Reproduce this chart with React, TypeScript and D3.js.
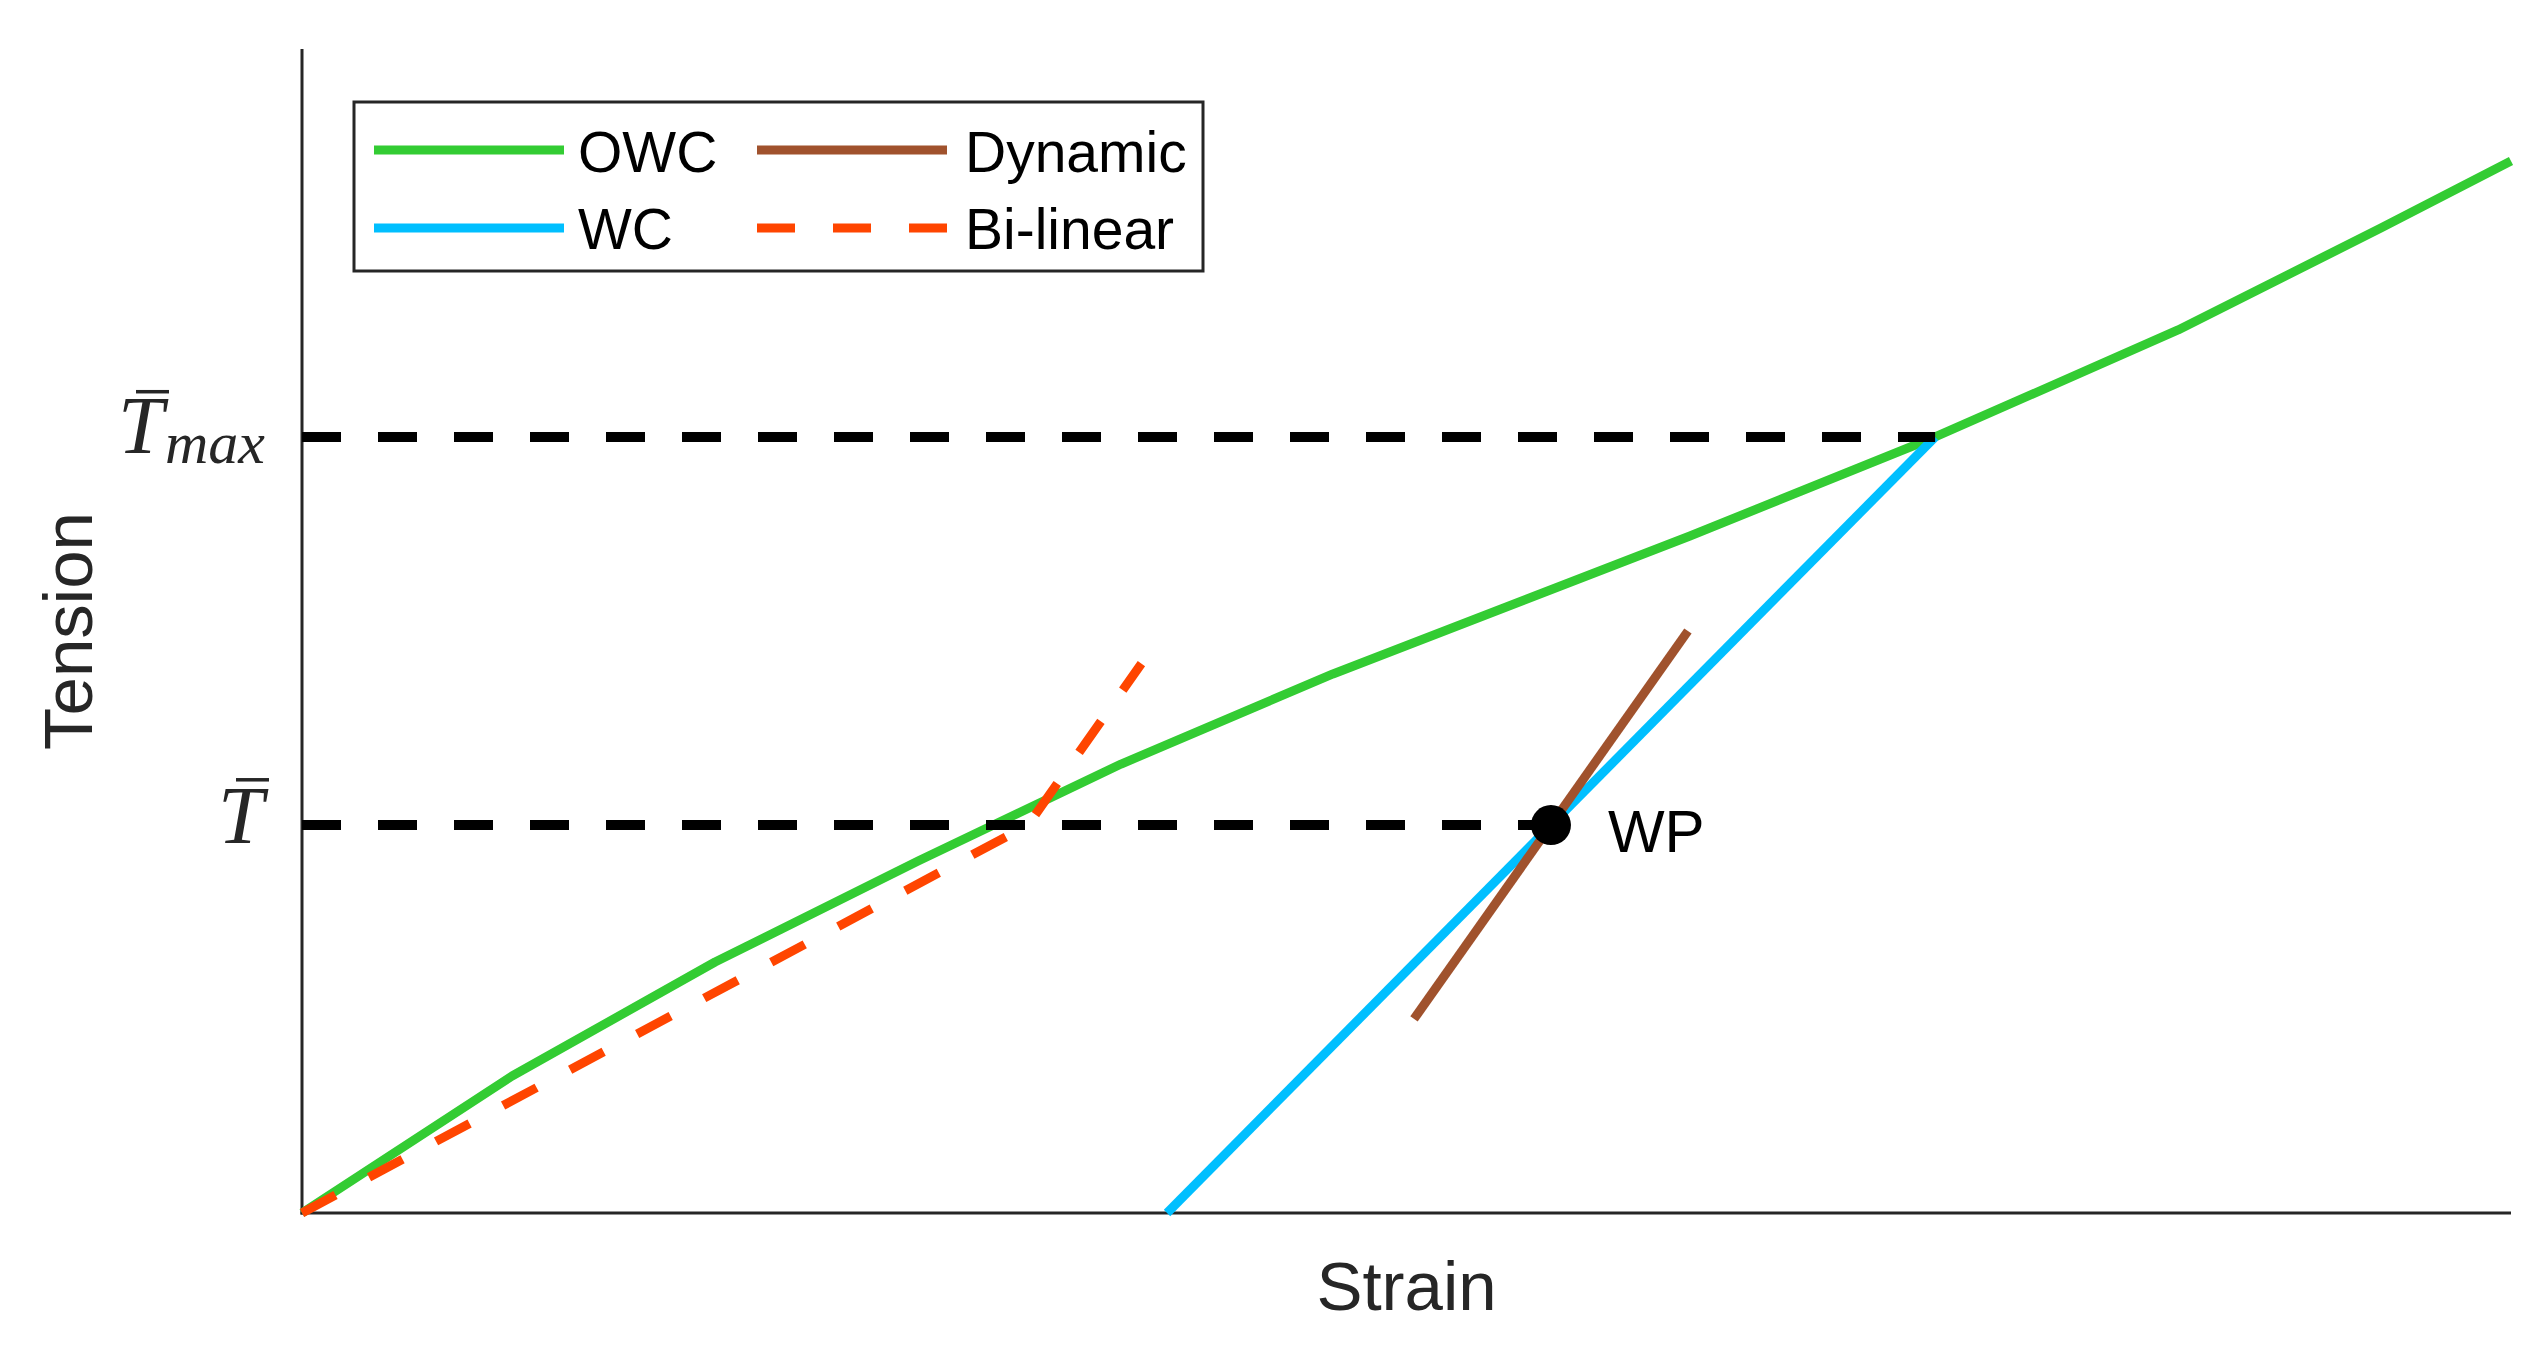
import React from "react";
import * as d3 from "d3";

const owcStrain = [0, 0.0951, 0.187, 0.2789, 0.3708, 0.4667, 0.6283, 0.7393, 0.8493, 0.9411, 1.0];
const owcTension = [0, 0.1177, 0.2156, 0.3024, 0.3857, 0.4631, 0.5816, 0.6667, 0.7586, 0.8462, 0.9038];
const wcStrain = [0.3916, 0.7393];
const wcTension = [0, 0.6667];
const dynStrain = [0.5034, 0.6274];
const dynTension = [0.1667, 0.5];
const biStrain = [0, 0.3287, 0.38];
const biTension = [0, 0.3333, 0.472];
const wpStrain = [0.5654];
const wpTension = [0.3333];
const refTension = [0.3333, 0.6667];
const refStrainEnd = [0.5654, 0.7393];
const tickSub = ["", "max"];
const legendNames = ["OWC", "WC", "Dynamic", "Bi-linear"];

const W = 2548, H = 1354;
const L = 302, R = 2511, B = 1213, T = 49;
const axisColor = "#262626";
const colors = { owc: "#33CC33", wc: "#00BFFF", dyn: "#A0522D", bi: "#FF4500" };

export default function App() {
  const x = d3.scaleLinear().domain([0, 1]).range([L, R]);
  const y = d3.scaleLinear().domain([0, 1]).range([B, T]);
  const line = d3.line<[number, number]>().x((d) => x(d[0])).y((d) => y(d[1]));
  const zip = (a: number[], b: number[]) => a.map((v, i) => [v, b[i]] as [number, number]);

  const legendItems = [
    { name: legendNames[0], color: colors.owc, dash: undefined, lx: 374, ly: 150, tx: 578, ty: 172 },
    { name: legendNames[1], color: colors.wc, dash: undefined, lx: 374, ly: 228, tx: 578, ty: 249 },
    { name: legendNames[2], color: colors.dyn, dash: undefined, lx: 757, ly: 150, tx: 965, ty: 172 },
    { name: legendNames[3], color: colors.bi, dash: "38 38", lx: 757, ly: 228, tx: 965, ty: 249 },
  ];

  return (
    <div style={{ position: "absolute", left: 0, top: 0 }}>
      <svg width={W} height={H} style={{ display: "block", background: "#fff" }} fontFamily="'Liberation Sans', Arial, sans-serif">
        <rect x={0} y={0} width={W} height={H} fill="#fff" />
        {/* axes */}
        <line x1={L} y1={T} x2={L} y2={B + 1.5} stroke={axisColor} strokeWidth={3} />
        <line x1={L - 1.5} y1={B} x2={R} y2={B} stroke={axisColor} strokeWidth={3} />
        {refTension.map((t, i) => (
          <line key={"tk" + i} x1={L} x2={L + 22} y1={y(t)} y2={y(t)} stroke={axisColor} strokeWidth={3} />
        ))}
        {/* series */}
        <path d={line(zip(owcStrain, owcTension)) || ""} fill="none" stroke={colors.owc} strokeWidth={9} strokeLinejoin="round" />
        <path d={line(zip(wcStrain, wcTension)) || ""} fill="none" stroke={colors.wc} strokeWidth={9} />
        <path d={line(zip(dynStrain, dynTension)) || ""} fill="none" stroke={colors.dyn} strokeWidth={9} />
        <path d={line(zip(biStrain, biTension)) || ""} fill="none" stroke={colors.bi} strokeWidth={9} strokeDasharray="38 38" />
        {/* reference dashed lines */}
        {refTension.map((t, i) => (
          <line key={"ref" + i} x1={x(0)} x2={x(refStrainEnd[i])} y1={y(t)} y2={y(t)} stroke="#000" strokeWidth={10} strokeDasharray="39 37" />
        ))}
        {/* WP */}
        {wpStrain.map((s, i) => (
          <g key={"wp" + i}>
            <circle cx={x(s)} cy={y(wpTension[i])} r={20} fill="#000" />
            <text x={x(s) + 57} y={y(wpTension[i]) + 27} fontSize={60} fill="#000">WP</text>
          </g>
        ))}
        {/* y tick labels */}
        {refTension.map((t, i) => {
          const hasSub = tickSub[i] !== "";
          const tx = hasSub ? L - 184 : L - 84;
          const ty = y(t) + (hasSub ? 16 : 18);
          return (
            <g key={"tl" + i}>
              <text x={tx} y={ty} fontFamily="'Liberation Serif', 'Times New Roman', serif" fontStyle="italic" fontSize={82} fill={axisColor}>T</text>
              <rect x={tx + 18} y={y(t) - 47} width={33} height={3.5} fill={axisColor} />
              {hasSub && (
                <text x={L - 137} y={y(t) + 26} fontFamily="'Liberation Serif', 'Times New Roman', serif" fontStyle="italic" fontSize={60} fill={axisColor}>{tickSub[i]}</text>
              )}
            </g>
          );
        })}
        {/* axis labels */}
        <text x={(L + R) / 2} y={1310} textAnchor="middle" fontSize={69} fill={axisColor}>Strain</text>
        <text transform={`translate(92, ${(T + B) / 2}) rotate(-90)`} textAnchor="middle" fontSize={69} fill={axisColor}>Tension</text>
        {/* legend */}
        <rect x={354} y={102} width={849} height={169} fill="#fff" stroke={axisColor} strokeWidth={3} />
        {legendItems.map((it) => (
          <g key={it.name}>
            <line x1={it.lx} x2={it.lx + 190} y1={it.ly} y2={it.ly} stroke={it.color} strokeWidth={9} strokeDasharray={it.dash} />
            <text x={it.tx} y={it.ty} fontSize={57} fill="#000">{it.name}</text>
          </g>
        ))}
      </svg>
    </div>
  );
}
